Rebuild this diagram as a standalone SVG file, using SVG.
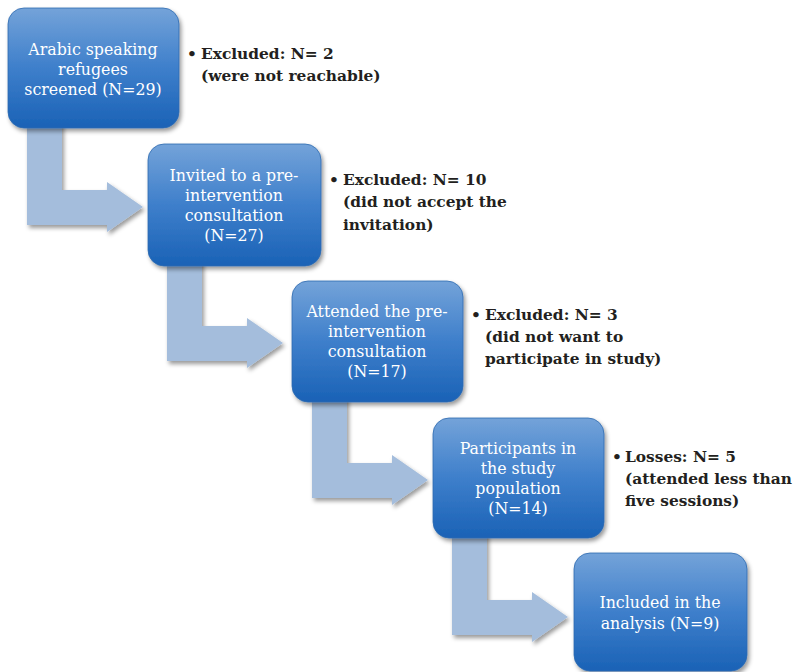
<svg xmlns="http://www.w3.org/2000/svg" width="796" height="672" viewBox="0 0 796 672">
  <defs>
    <linearGradient id="boxGrad" x1="0" y1="0" x2="0" y2="1">
      <stop offset="0" stop-color="#74a3d9"/>
      <stop offset="0.5" stop-color="#3e7fcb"/>
      <stop offset="1" stop-color="#1a62b6"/>
    </linearGradient>
    <filter id="shadow" x="-10%" y="-10%" width="130%" height="130%">
      <feDropShadow dx="2" dy="3" stdDeviation="2" flood-color="#000" flood-opacity="0.4"/>
    </filter>
    <path id="bentArrow" d="M27,110 L62,110 L62,190 L107,190 L107,182 L143,207 L107,232 L107,225 L27,225 Z"/>
  </defs>
  <style>
    .arrow { fill: #a4bddc; filter: url(#shadow); }
    .box { fill: url(#boxGrad); stroke: #2f6bb0; stroke-width: 0.8; filter: url(#shadow); }
    .bt { font-family: "DejaVu Serif", serif; font-size: 15.8px; fill: #ffffff; text-anchor: middle; }
    .lt { font-family: "DejaVu Serif", serif; font-weight: bold; font-size: 15.4px; fill: #231f20; }
  </style>
  <rect width="796" height="672" fill="#ffffff"/>

  <g id="connectors">
    <use href="#bentArrow" class="arrow"/>
    <use href="#bentArrow" class="arrow" transform="translate(140,136)"/>
    <use href="#bentArrow" class="arrow" transform="translate(285,273)"/>
    <use href="#bentArrow" class="arrow" transform="translate(425,410)"/>
  </g>

  <g id="node1">
    <rect class="box" x="8" y="8" width="171" height="120" rx="16"/>
    <text class="bt" x="93" y="55">Arabic speaking</text>
    <text class="bt" x="93" y="75">refugees</text>
    <text class="bt" x="93" y="95">screened (N=29)</text>
  </g>
  <g id="label1">
    <text class="lt" x="187" y="59">•</text>
    <text class="lt" x="201" y="59">Excluded: N= 2</text>
    <text class="lt" x="201" y="81">(were not reachable)</text>
  </g>

  <g id="node2">
    <rect class="box" x="148" y="144" width="173" height="122" rx="16"/>
    <text class="bt" x="234" y="181">Invited to a pre-</text>
    <text class="bt" x="234" y="201">intervention</text>
    <text class="bt" x="234" y="221">consultation</text>
    <text class="bt" x="234" y="241">(N=27)</text>
  </g>
  <g id="label2">
    <text class="lt" x="329" y="185">•</text>
    <text class="lt" x="343" y="185">Excluded: N= 10</text>
    <text class="lt" x="343" y="207">(did not accept the</text>
    <text class="lt" x="343" y="230">invitation)</text>
  </g>

  <g id="node3">
    <rect class="box" x="292" y="281" width="171" height="121" rx="16"/>
    <text class="bt" x="377" y="317">Attended the pre-</text>
    <text class="bt" x="377" y="337">intervention</text>
    <text class="bt" x="377" y="357">consultation</text>
    <text class="bt" x="377" y="377">(N=17)</text>
  </g>
  <g id="label3">
    <text class="lt" x="471" y="320">•</text>
    <text class="lt" x="485" y="320">Excluded: N= 3</text>
    <text class="lt" x="485" y="342">(did not want to</text>
    <text class="lt" x="485" y="364">participate in study)</text>
  </g>

  <g id="node4">
    <rect class="box" x="433" y="418" width="171" height="120" rx="16"/>
    <text class="bt" x="518" y="454">Participants in</text>
    <text class="bt" x="518" y="474">the study</text>
    <text class="bt" x="518" y="494">population</text>
    <text class="bt" x="518" y="514">(N=14)</text>
  </g>
  <g id="label4">
    <text class="lt" x="612" y="462">•</text>
    <text class="lt" x="625" y="462">Losses: N= 5</text>
    <text class="lt" x="625" y="484">(attended less than</text>
    <text class="lt" x="625" y="506">five sessions)</text>
  </g>

  <g id="node5">
    <rect class="box" x="574" y="553" width="173" height="118" rx="16"/>
    <text class="bt" x="660" y="608">Included in the</text>
    <text class="bt" x="660" y="629">analysis (N=9)</text>
  </g>
</svg>
